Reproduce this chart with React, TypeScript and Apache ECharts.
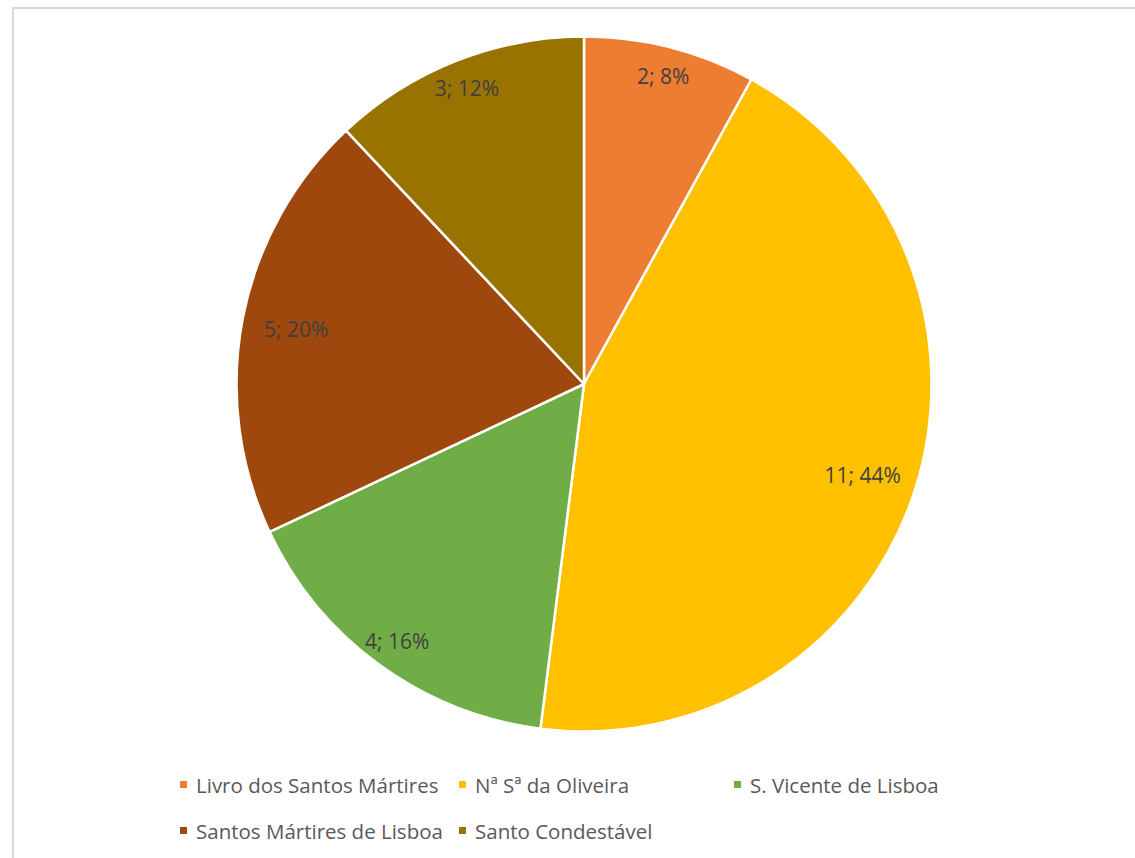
import React, { useEffect, useRef } from "react";
import * as echarts from "echarts";

const categories = [
  "Livro dos Santos Mártires",
  "Nª Sª da Oliveira",
  "S. Vicente de Lisboa",
  "Santos Mártires de Lisboa",
  "Santo Condestável",
];
const values = [2, 11, 4, 5, 3];
const colors = ["#ED7D31", "#FFC000", "#70AD47", "#9E480E", "#997300"];
// which labels sit on the outer ring and which on the inner ring
const outerLabelIdx = [0, 2, 4];
const legendPos = [
  { left: 178, top: 774 },
  { left: 457, top: 774 },
  { left: 732, top: 774 },
  { left: 178, top: 820 },
  { left: 457, top: 820 },
];

export default function App() {
  const ref = useRef<HTMLDivElement>(null);
  useEffect(() => {
    if (!ref.current) return;
    const chart = echarts.init(ref.current, null, { renderer: "svg" });
    const font = "'Open Sans', sans-serif";
    const baseData = categories.map((n, i) => ({
      name: n,
      value: values[i],
      itemStyle: { color: colors[i] },
    }));
    const labelFmt = (p: any) => `${p.value}; ${Math.round(p.percent)}%`;
    const labelSeries = (idxs: number[], radius: number) => ({
      type: "pie",
      center: [584, 384],
      radius: [0, radius],
      silent: true,
      legendHoverLink: false,
      z: 5,
      startAngle: 90,
      avoidLabelOverlap: false,
      itemStyle: { color: "rgba(0,0,0,0)", borderWidth: 0 },
      labelLine: { show: false },
      emphasis: { disabled: true },
      data: categories.map((n, i) => ({
        name: n,
        value: values[i],
        itemStyle: { color: "rgba(0,0,0,0)" },
        label: {
          show: idxs.includes(i),
          position: "inside",
          formatter: labelFmt,
          color: "#404040",
          fontSize: 21,
          fontFamily: font,
        },
      })),
    });
    chart.setOption({
      animation: false,
      backgroundColor: "#ffffff",
      graphic: [
        {
          type: "rect",
          shape: { x: 13, y: 8, width: 1300, height: 1000 },
          style: { fill: "none", stroke: "#d9d9d9", lineWidth: 2 },
          silent: true,
        },
      ],
      legend: categories.map((n, i) => ({
        data: [{ name: n, itemStyle: { color: colors[i] } }],
        left: legendPos[i].left,
        top: legendPos[i].top,
        icon: "rect",
        itemWidth: 9,
        itemHeight: 9,
        padding: 0,
        selectedMode: false,
        textStyle: {
          color: "#595959",
          fontSize: 20.5,
          fontFamily: font,
          padding: [0, 0, 0, 3],
        },
      })),
      series: [
        {
          type: "pie",
          center: [584, 384],
          radius: [0, 347.5],
          startAngle: 90,
          clockwise: true,
          itemStyle: { borderColor: "#ffffff", borderWidth: 2.5 },
          label: { show: false },
          labelLine: { show: false },
          emphasis: { disabled: true },
          data: baseData,
        },
        labelSeries(outerLabelIdx, 630),
        labelSeries(
          categories.map((_, i) => i).filter((i) => !outerLabelIdx.includes(i)),
          580
        ),
      ],
    });
    return () => chart.dispose();
  }, []);
  return (
    <div
      ref={ref}
      style={{ position: "absolute", left: 0, top: 0, width: 1135, height: 858 }}
    />
  );
}
